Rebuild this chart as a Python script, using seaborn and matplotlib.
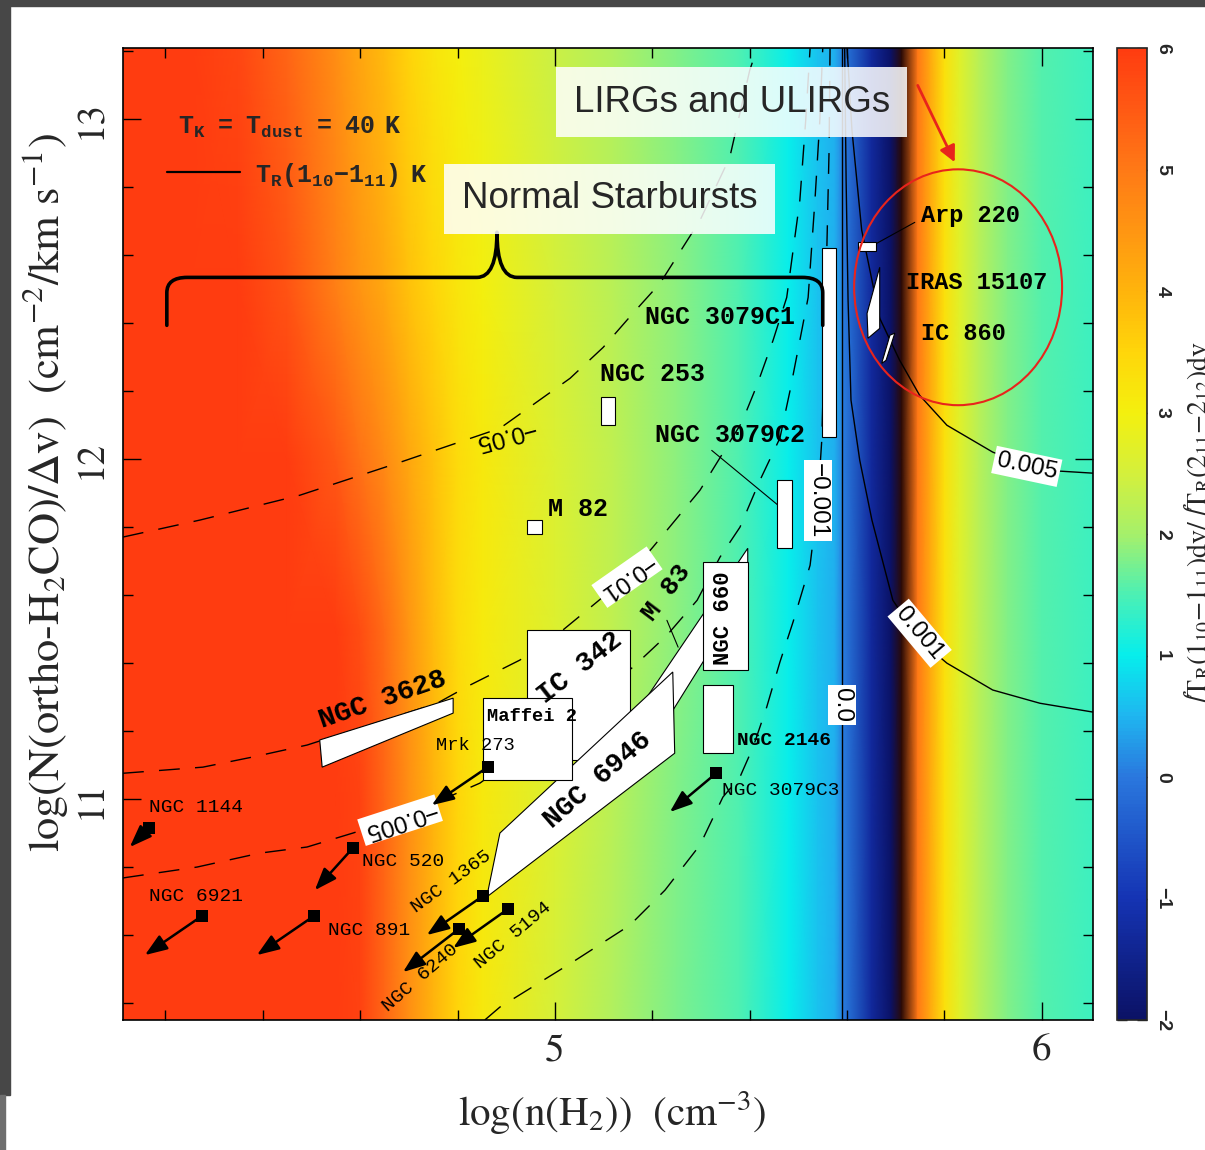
import numpy as np
import pandas as pd
import matplotlib
matplotlib.use("Agg")
import matplotlib.pyplot as plt
import seaborn as sns
from matplotlib.colors import LinearSegmentedColormap, Normalize
from matplotlib.patches import Polygon, Ellipse, PathPatch, Rectangle
from matplotlib.path import Path
from matplotlib.ticker import MultipleLocator

# ---------------- line-ratio map: knots of log n(H2) and log N/dv ----------------
dens_low = [4.10, 4.25, 4.35, 4.45, 4.55, 4.60, 4.65, 4.70, 4.75, 4.80, 4.85, 5.00, 5.12, 5.25]
dens_high = [5.38, 5.48, 5.54, 5.575, 5.592, 5.65, 5.69, 5.712, 5.745, 5.77, 5.80, 5.83, 5.87, 5.93, 6.00, 6.11]
col_knots = [10.30, 11.00, 11.50, 12.00, 12.50, 13.25]

# ratio values at the low-density knots, one list per column-density row
ratio_1030 = [6.0, 6.0, 6.0, 6.0, 6.0, 5.9, 5.3, 4.6, 4.0, 3.5, 3.15, 2.5, 2.1, 1.75]
ratio_1100 = [6.0, 6.0, 6.0, 6.0, 6.0, 5.9, 5.3, 4.6, 4.0, 3.5, 3.15, 2.6, 2.2, 1.8]
ratio_1150 = [6.0, 6.0, 6.0, 6.0, 6.0, 5.7, 5.2, 4.5, 3.9, 3.4, 3.1, 2.65, 2.25, 1.85]
ratio_1200 = [6.0, 6.0, 6.0, 6.0, 5.5, 5.1, 4.7, 4.2, 3.8, 3.4, 3.15, 2.6, 2.25, 1.85]
ratio_1250 = [6.0, 6.0, 6.0, 5.6, 4.9, 4.5, 4.2, 3.8, 3.5, 3.2, 3.0, 2.5, 2.2, 1.85]
ratio_1325 = [6.0, 6.0, 5.8, 5.3, 4.6, 4.2, 3.9, 3.5, 3.2, 3.0, 2.85, 2.4, 2.1, 1.8]
# high-density part (same for every row); -9 marks the divergence band
ratio_high = [1.5, 1.0, 0.6, 0.45, 0.05, -1.3, -2.0, -9.0, 5.0, 4.2, 3.3, 2.7, 2.2, 1.8, 1.55, 1.4]

cbar_levels = [-2, -1, 0, 0.5, 1, 1.5, 2, 2.5, 3, 3.5, 4, 4.5, 5, 5.5, 6]
cbar_colors = ['#0b1266', '#1534b4', '#2a78de', '#1fb6f0', '#06eeec', '#4cf0b4',
               '#a6f06a', '#d4f03c', '#f4f00e', '#ffd60a', '#ffb40c', '#ff9612',
               '#ff7a16', '#ff5a14', '#ff3c10']

# ---------------- T_R(1_10-1_11) contours ----------------
tr_m05_x = [4.113, 4.271, 4.476, 4.682, 4.887, 5.031, 5.099, 5.160, 5.216, 5.298, 5.359, 5.400, 5.415]
tr_m05_y = [11.771, 11.821, 11.894, 11.991, 12.091, 12.238, 12.329, 12.429, 12.518, 12.703, 12.888, 13.144, 13.209]
tr_m01_x = [4.113, 4.277, 4.380, 4.491, 4.758, 4.825, 4.928, 5.016, 5.066, 5.148, 5.201, 5.230, 5.298,
            5.384, 5.415, 5.448, 5.476, 5.503, 5.515, 5.524]
tr_m01_y = [11.076, 11.094, 11.124, 11.159, 11.282, 11.335, 11.409, 11.497, 11.556, 11.653, 11.741, 11.791,
            11.909, 12.109, 12.218, 12.350, 12.476, 12.762, 12.997, 13.209]
tr_m005_x = [4.113, 4.265, 4.394, 4.491, 4.585, 4.682, 4.846, 5.010, 5.160, 5.230, 5.292, 5.339, 5.380,
             5.421, 5.462, 5.483, 5.503, 5.520, 5.534, 5.544, 5.550]
tr_m005_y = [10.768, 10.800, 10.841, 10.859, 10.900, 10.944, 11.047, 11.218, 11.388, 11.482, 11.585,
             11.712, 11.800, 11.938, 12.062, 12.203, 12.350, 12.476, 12.762, 12.997, 13.209]
tr_m001_x = [4.856, 4.887, 5.037, 5.154, 5.226, 5.298, 5.345, 5.380, 5.407, 5.435, 5.462, 5.489, 5.524,
             5.540, 5.548, 5.556, 5.563, 5.565]
tr_m001_y = [10.350, 10.388, 10.521, 10.629, 10.732, 10.865, 11.006, 11.065, 11.153, 11.271, 11.403,
             11.521, 11.688, 11.879, 12.056, 12.468, 12.909, 13.209]
tr_0_x = [5.589, 5.589]
tr_0_y = [10.35, 13.21]
tr_p001_x = [5.595, 5.598, 5.602, 5.608, 5.626, 5.651, 5.694, 5.749, 5.805, 5.899, 5.996, 6.105]
tr_p001_y = [13.209, 12.821, 12.468, 12.174, 11.997, 11.821, 11.585, 11.468, 11.400, 11.321, 11.282, 11.256]
tr_p005_x = [5.600, 5.610, 5.630, 5.667, 5.708, 5.749, 5.805, 5.899, 5.969, 6.037, 6.105]
tr_p005_y = [13.209, 12.968, 12.674, 12.415, 12.291, 12.188, 12.100, 12.021, 11.982, 11.965, 11.959]

tr_label_text = ['\u22120.05', '\u22120.01', '\u22120.005', '\u22120.001', '0.0', '0.001', '0.005']
tr_label_x = [4.897, 5.148, 4.682, 5.540, 5.589, 5.749, 5.969]
tr_label_y = [12.071, 11.653, 10.938, 11.879, 11.276, 11.488, 11.979]
tr_label_rot = [195, 215, 198, -90, -90, -50, -12]
tr_label_box = [False, True, True, True, True, True, True]

# ---------------- galaxy regions ----------------
rect_names = ['NGC 3079C1', 'Arp 220', 'NGC 253', 'M 82', 'NGC 3079C2', 'IC 342', 'Maffei 2', 'NGC 660', 'NGC 2146']
rect_x0 = [5.548, 5.622, 5.094, 4.943, 5.456, 4.943, 4.852, 5.304, 5.304]
rect_x1 = [5.577, 5.659, 5.123, 4.973, 5.487, 5.154, 5.035, 5.396, 5.366]
rect_y0 = [12.065, 12.612, 12.100, 11.779, 11.738, 11.115, 11.056, 11.379, 11.135]
rect_y1 = [12.621, 12.638, 12.182, 11.821, 11.938, 11.497, 11.297, 11.697, 11.335]

poly_m83_x = [5.164, 5.396, 5.396, 5.240]
poly_m83_y = [11.247, 11.738, 11.615, 11.256]
poly_n6946_x = [4.860, 4.887, 5.242, 5.246]
poly_n6946_y = [10.712, 10.900, 11.374, 11.135]
poly_n3628_x = [4.517, 4.791, 4.791, 4.522]
poly_n3628_y = [11.174, 11.297, 11.253, 11.094]
poly_iras_x = [5.667, 5.641, 5.643, 5.667]
poly_iras_y = [12.565, 12.429, 12.356, 12.385]
poly_ic860_x = [5.688, 5.698, 5.680, 5.671]
poly_ic860_y = [12.365, 12.371, 12.291, 12.282]

# upper limits
ul_names = ['NGC 1144', 'NGC 520', 'NGC 6921', 'NGC 891', 'Mrk 273', 'NGC 1365', 'NGC 6240', 'NGC 5194', 'NGC 3079C3']
ul_x = [4.166, 4.585, 4.275, 4.505, 4.862, 4.852, 4.803, 4.903, 5.331]
ul_y = [10.915, 10.856, 10.656, 10.656, 11.094, 10.715, 10.618, 10.676, 11.076]
ul_tip_x = [4.127, 4.507, 4.158, 4.388, 4.747, 4.737, 4.688, 4.791, 5.236]
ul_tip_y = [10.859, 10.732, 10.541, 10.541, 10.982, 10.600, 10.491, 10.562, 10.962]

# source labels
lab_text = ['NGC 3079C1', 'NGC 253', 'NGC 3079C2', 'M 82', 'M 83', 'NGC 660', 'IC 342', 'Maffei 2',
            'NGC 3628', 'NGC 6946', 'NGC 2146', 'Arp 220', 'IRAS 15107', 'IC 860', 'Mrk 273',
            'NGC 1144', 'NGC 520', 'NGC 6921', 'NGC 891', 'NGC 1365', 'NGC 6240', 'NGC 5194', 'NGC 3079C3']
lab_x = [5.185, 5.092, 5.205, 4.986, 5.230, 5.347, 5.051, 4.860, 4.647, 5.088, 5.374, 5.752, 5.721, 5.752,
         4.756, 4.166, 4.604, 4.166, 4.534, 4.788, 4.723, 4.914, 5.343]
lab_y = [12.418, 12.250, 12.071, 11.853, 11.609, 11.532, 11.385, 11.244, 11.291, 11.056, 11.171, 12.718,
         12.521, 12.371, 11.159, 10.974, 10.815, 10.712, 10.612, 10.756, 10.474, 10.600, 11.024]
lab_rot = [0, 0, 0, 0, 53, 90, 38, 0, 19, 41, 0, 0, 0, 0, 0, 0, 0, 0, 0, 36, 41, 40, 0]
lab_size = [18, 18, 18, 18, 19, 16, 20, 13.5, 20, 20, 14, 17, 17, 17, 13.5, 14, 14, 14, 14, 14, 14, 14, 14]
lab_bold = [True] * 14 + [False] * 9
lab_left = [True, True, True, True, False, False, False, True, False, False, True, True, True, True,
            True, True, True, True, True, False, False, False, True]

# ---------------- style ----------------
sns.set_theme(style='ticks')
plt.rcParams['font.family'] = ['DejaVu Sans']
plt.rcParams['mathtext.fontset'] = 'custom'
plt.rcParams['mathtext.rm'] = 'Liberation Mono:bold'
plt.rcParams['mathtext.it'] = 'Liberation Mono:bold'
plt.rcParams['mathtext.bf'] = 'Liberation Mono:bold'

W, H = 1205, 1150
fig = plt.figure(figsize=(W / 100, H / 100), dpi=100)
fig.patch.set_facecolor('white')
ax = fig.add_axes([123 / W, 1 - 1020 / H, 970 / W, 972 / H])
cax = fig.add_axes([1117 / W, 1 - 1020 / H, 30 / W, 972 / H])

# colour field
cmap = LinearSegmentedColormap.from_list(
    'ratio', [((v + 2) / 8, c) for v, c in zip(cbar_levels, cbar_colors)])
cmap.set_under('#2a0a06')
norm = Normalize(vmin=-2, vmax=6)
dens = dens_low + dens_high
rows = [ratio_1030, ratio_1100, ratio_1150, ratio_1200, ratio_1250, ratio_1325]
ratio = np.array([r + ratio_high for r in rows])
mesh = ax.pcolormesh(dens, col_knots, ratio, shading='gouraud', cmap=cmap, norm=norm,
                     zorder=0, rasterized=True)

# contours
frames = []
for name, xs, ys, kind in [('-0.05', tr_m05_x, tr_m05_y, 'neg'), ('-0.01', tr_m01_x, tr_m01_y, 'neg'),
                           ('-0.005', tr_m005_x, tr_m005_y, 'neg'), ('-0.001', tr_m001_x, tr_m001_y, 'neg'),
                           ('0.0', tr_0_x, tr_0_y, 'pos'), ('0.001', tr_p001_x, tr_p001_y, 'pos'),
                           ('0.005', tr_p005_x, tr_p005_y, 'pos')]:
    frames.append(pd.DataFrame({'x': xs, 'y': ys, 'level': name, 'kind': kind}))
contours = pd.concat(frames, ignore_index=True)
sns.lineplot(data=contours, x='x', y='y', units='level', estimator=None, sort=False,
             style='kind', style_order=['pos', 'neg'], dashes={'neg': (15, 11), 'pos': ''},
             color='black', linewidth=1.0, legend=False, ax=ax, zorder=2)

for t, x, y, r, b in zip(tr_label_text, tr_label_x, tr_label_y, tr_label_rot, tr_label_box):
    kw = dict(bbox=dict(boxstyle='square,pad=0.12', fc='white', ec='none')) if b else {}
    ax.text(x, y, t, rotation=r, rotation_mode='anchor', ha='center', va='center',
            fontsize=17.5, family='Liberation Sans', color='black', zorder=4, **kw)

# regions
def add_poly(xs, ys, z=3):
    ax.add_patch(Polygon(np.column_stack([xs, ys]), closed=True, fc='white', ec='black', lw=0.8, zorder=z))

add_poly(poly_m83_x, poly_m83_y)
for n, x0, x1, y0, y1 in zip(rect_names, rect_x0, rect_x1, rect_y0, rect_y1):
    if n == 'IC 342':
        add_poly([x0, x1, x1, x0], [y0, y0, y1, y1], z=3)
add_poly(poly_n6946_x, poly_n6946_y, z=3.1)
for n, x0, x1, y0, y1 in zip(rect_names, rect_x0, rect_x1, rect_y0, rect_y1):
    if n != 'IC 342':
        add_poly([x0, x1, x1, x0], [y0, y0, y1, y1], z=3.2)
add_poly(poly_n3628_x, poly_n3628_y)
add_poly(poly_iras_x, poly_iras_y)
add_poly(poly_ic860_x, poly_ic860_y)

# leader lines
ax.plot([5.322, 5.458], [12.026, 11.865], color='black', lw=0.8, zorder=3)
ax.plot([5.739, 5.653], [12.697, 12.629], color='black', lw=0.8, zorder=3)
ax.plot([5.230, 5.253], [11.526, 11.447], color='black', lw=0.8, zorder=3)

# upper limits
for x, y, tx, ty in zip(ul_x, ul_y, ul_tip_x, ul_tip_y):
    ax.annotate('', xy=(tx, ty), xytext=(x, y),
                arrowprops=dict(arrowstyle='-|>,head_length=0.75,head_width=0.28', lw=1.8,
                                color='black', shrinkA=0, shrinkB=0, mutation_scale=18), zorder=6)
sns.scatterplot(x=ul_x, y=ul_y, marker='s', s=75, color='black', edgecolor='black',
                linewidth=0, ax=ax, zorder=7, legend=False)

for t, x, y, r, s, b, left in zip(lab_text, lab_x, lab_y, lab_rot, lab_size, lab_bold, lab_left):
    ax.text(x, y, t, rotation=r, rotation_mode='anchor', ha='left' if left else 'center',
            va='center', fontsize=s, family='Liberation Mono',
            fontweight='bold' if b else 'normal', color='black', zorder=8)

# legend
ax.text(4.226, 12.976, r'$\mathrm{T_K\ \ =\ \ T_{dust}\ \ =\ \ 40\ \ K}$', math_fontfamily='custom',
        fontsize=18, va='center', ha='left', zorder=8)
ax.plot([4.203, 4.353], [12.844, 12.844], color='black', lw=1.6, zorder=8)
ax.text(4.385, 12.835, r'$\mathrm{T_R(1_{10}{-}1_{11})\ \ K}$', math_fontfamily='custom',
        fontsize=18, va='center', ha='left', zorder=8)

# brace over the normal starbursts
brace = Path([(4.203, 12.394), (4.203, 12.49), (4.203, 12.535), (4.245, 12.535), (4.840, 12.535),
              (4.881, 12.535), (4.881, 12.668), (4.881, 12.535), (4.922, 12.535), (5.508, 12.535),
              (5.550, 12.535), (5.550, 12.49), (5.550, 12.394)],
             [Path.MOVETO, Path.LINETO, Path.CURVE3, Path.CURVE3, Path.LINETO, Path.CURVE3, Path.CURVE3,
              Path.CURVE3, Path.CURVE3, Path.LINETO, Path.CURVE3, Path.CURVE3, Path.LINETO])
ax.add_patch(PathPatch(brace, fc='none', ec='black', lw=2.6, zorder=8, capstyle='round', joinstyle='round'))

ax.text(5.112, 12.766, 'Normal Starbursts', fontsize=26.5, family='Liberation Sans', ha='center',
        va='center', zorder=9, bbox=dict(boxstyle='square,pad=0.48', fc='white', ec='none', alpha=0.85))
ax.text(5.363, 13.051, 'LIRGs and ULIRGs', fontsize=26.5, family='Liberation Sans', ha='center',
        va='center', zorder=9, bbox=dict(boxstyle='square,pad=0.48', fc='white', ec='none', alpha=0.85))

ax.add_patch(Ellipse((5.828, 12.506), 0.427, 0.694, fc='none', ec='#e8241c', lw=1.5, zorder=9))
ax.annotate('', xy=(5.821, 12.874), xytext=(5.745, 13.100),
            arrowprops=dict(arrowstyle='-|>,head_length=0.6,head_width=0.3', lw=2.0, color='#e8241c',
                            shrinkA=0, shrinkB=0, mutation_scale=16), zorder=9)

# axes
ax.set_xlim(4.113, 6.105)
ax.set_ylim(10.35, 13.21)
ax.set_xticks([5, 6])
ax.set_xticklabels(['5', '6'], family='STIXGeneral', fontsize=28)
ax.set_yticks([11, 12, 13])
ax.set_yticklabels(['11', '12', '13'], family='STIXGeneral', fontsize=28, rotation=90, va='center')
ax.xaxis.set_minor_locator(MultipleLocator(0.2))
ax.yaxis.set_minor_locator(MultipleLocator(0.2))
ax.tick_params(which='both', direction='in', top=True, right=True, color='black', width=1.0)
ax.tick_params(which='major', length=13, pad=10)
ax.tick_params(which='minor', length=7)
ax.set_xlabel('')
ax.set_ylabel('')
for sp in ax.spines.values():
    sp.set_linewidth(1.2)
    sp.set_color('black')

cb = fig.colorbar(mesh, cax=cax, ticks=list(range(-2, 7)))
cb.outline.set_linewidth(1.2)
cax.tick_params(direction='in', left=True, right=True, length=7, width=1.0, pad=5)
cax.set_yticklabels(['\u22122', '\u22121', '0', '1', '2', '3', '4', '5', '6'], rotation=-90,
                    va='center', fontsize=14, fontweight='bold', family='Liberation Sans')

fig.text(612 / W, 1 - 1113 / H, r'log(n(H$_2$))  (cm$^{-3}$)', family='STIXGeneral',
         math_fontfamily='stix', fontsize=29.5, ha='center', va='center')
fig.text(45 / W, 1 - 492 / H, r'log(N(ortho-H$_2$CO)/$\Delta$v)  (cm$^{-2}$/km s$^{-1}$)',
         family='STIXGeneral', math_fontfamily='stix', fontsize=32, ha='center', va='center', rotation=90)
fig.text(1182 / W, 1 - 525 / H,
         r'$\int$T$_{\rm R}$(1$_{10}$$-$1$_{11}$)dv/$\int$T$_{\rm R}$(2$_{11}$$-$2$_{12}$)dv',
         family='STIXGeneral', math_fontfamily='stix', fontsize=20, ha='left', va='center', rotation=90)

# dark frame along the top and left edges
fig.add_artist(Rectangle((0, 1 - 6 / H), 1, 6 / H, transform=fig.transFigure, color='#474747', zorder=20))
fig.add_artist(Rectangle((0, 55 / H), 10 / W, 1 - 55 / H, transform=fig.transFigure, color='#474747', zorder=20))
fig.add_artist(Rectangle((0, 0), 5 / W, 55 / H, transform=fig.transFigure, color='#6e6e6e', zorder=20))

fig.savefig('out.png', dpi=100)
